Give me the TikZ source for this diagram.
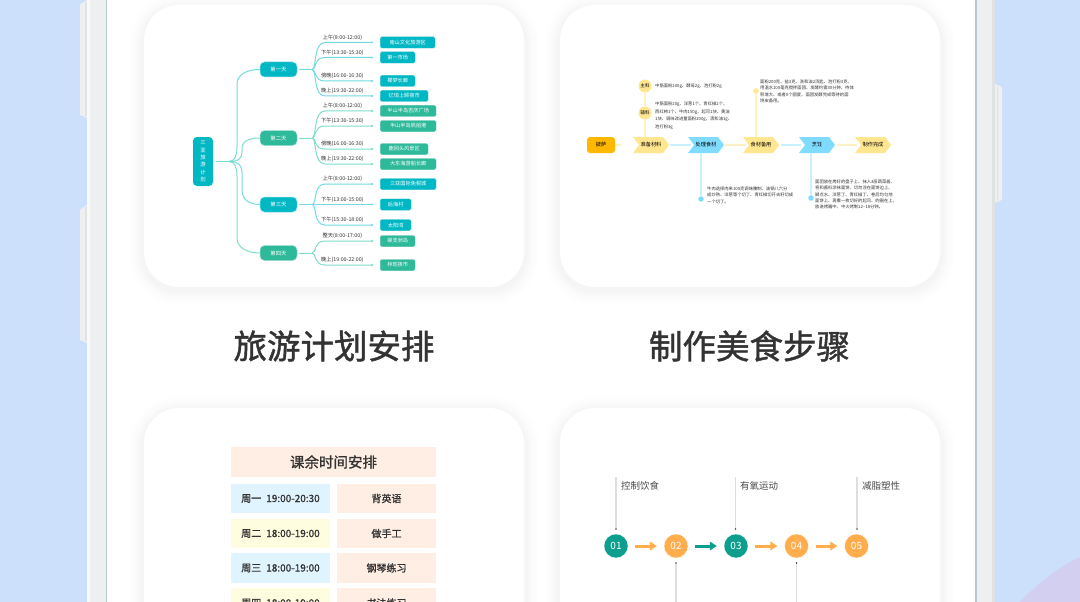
\documentclass[tikz,border=0pt]{standalone}
\usepackage{fontspec}
\setmainfont{Noto Sans CJK SC}
\newfontfamily\med[FakeBold=1.2]{Noto Sans CJK SC}
\newfontfamily\lit[FakeBold=0.5]{Noto Sans CJK SC}
\newfontfamily\thn{Noto Sans CJK SC}
\usetikzlibrary{arrows.meta,calc}
\definecolor{bgblue}{HTML}{CCE0FB}
\definecolor{bgpurple}{HTML}{D2CFF0}
\definecolor{framec}{HTML}{EDEFF0}
\definecolor{frameedge}{HTML}{B8C8CC}
\definecolor{frameside}{HTML}{E0E2E4}
\definecolor{mmcyan}{HTML}{00B8C4}
\definecolor{mmgreen}{HTML}{2DB99A}
\definecolor{lncyan}{HTML}{74DBE0}
\definecolor{lngreen}{HTML}{7EDDCB}
\definecolor{ink}{HTML}{333333}
\definecolor{ryel}{HTML}{FFE68F}
\definecolor{rblu}{HTML}{80DCFF}
\definecolor{rorg}{HTML}{FFB800}
\definecolor{ryell}{HTML}{FFF2C2}
\definecolor{rblul}{HTML}{C9F0FF}
\definecolor{tpeach}{HTML}{FFEEE3}
\definecolor{tblue}{HTML}{E0F4FF}
\definecolor{tyel}{HTML}{FFFDE0}
\definecolor{tteal}{HTML}{0E9E8E}
\definecolor{torg}{HTML}{FFAD4D}
\newcommand{\fs}[1]{\fontsize{#1}{#1}\selectfont}
\tikzset{
  dayc/.style={fill=mmcyan,draw=mmcyan!45,line width=.5pt,rounded corners=4.5pt,text=white,font=\thn\fs{5.4},minimum width=37pt,minimum height=15pt,inner sep=0pt},
  dayg/.style={dayc,fill=mmgreen,draw=mmgreen!45},
  leafc/.style={anchor=west,fill=mmcyan,draw=mmcyan!35,line width=.4pt,rounded corners=1.5pt,text=white,font=\thn\fs{5.2},minimum height=11.5pt,inner sep=0pt},
  leafg/.style={leafc,fill=mmgreen,draw=mmgreen!35},
  slot/.style={font=\thn\fs{5.3},text=ink,inner sep=0pt},
  mmc/.style={draw=lncyan,line width=1pt,-{Circle[length=2pt,fill=mmcyan]}},
  mmg/.style={draw=lngreen,line width=1pt,-{Circle[length=2pt,fill=mmgreen]}},
  trunkc/.style={draw=lncyan,line width=1pt},
  trunkg/.style={draw=lngreen,line width=1pt},
  note/.style={font=\fs{4.3},text=ink,align=left,anchor=north west,inner sep=0pt,text depth=0pt},
  stepc/.style={font=\thn\fs{5.2},text=black,minimum width=36pt,minimum height=16pt,inner sep=0pt},
  roundlab/.style={circle,fill=ryel,minimum size=13pt,inner sep=0pt,font=\thn\fs{4.6},text=black},
  rdot/.style={circle,minimum size=5.5pt,inner sep=0pt},
  rline/.style={line width=1.6pt},
  cell/.style={minimum height=29.5pt,inner sep=0pt,font=\med\fs{10},text=ink},
  lcell/.style={cell,minimum width=99pt},
  rcell/.style={cell,minimum width=99pt,fill=tpeach},
  num/.style={circle,minimum size=24pt,inner sep=0pt,text=white,font=\thn\fs{10},draw=white,line width=.3pt},
  tarr/.style={line width=3pt,-{Triangle[length=7pt,width=8.5pt]},shorten >=7pt,shorten <=7pt},
  tick/.style={draw=black!13,line width=1.6pt},
  tdot/.style={circle,fill=black!75,minimum size=1.8pt,inner sep=0pt},
  tlab/.style={font=\thn\fs{9.5},text=black!70,anchor=west,inner sep=0pt},
  bigtitle/.style={font=\med\fs{33.5},text=ink,inner sep=0pt}
}
\newcommand{\cardbox}[4]{%
  \foreach \w/\o in {30/.004,26/.004,22/.005,18/.005,14/.006,10/.006,6/.007}{
    \draw[black,opacity=\o,line width=\w pt,rounded corners=35pt] (#1,#2+3) rectangle (#3,#4+3);
  }
  \fill[white,rounded corners=35pt] (#1,#2) rectangle (#3,#4);
}
% name, cx, cy, colour, text
\newcommand{\chev}[5]{%
  \fill[#4] (#2-18,#3-8) -- (#2+12,#3-8) -- (#2+18,#3) -- (#2+12,#3+8) -- (#2-18,#3+8) -- (#2-12,#3) -- cycle;
  \node[stepc] (#1) at (#2,#3) {#5};
}
\newcommand{\branch}[4]{% style, hub, leaf, label text
  \draw[#1] (#2) .. controls +(5,0) and ($(#3.west -| #2)+(1,0)$) .. ($(#3.west -| #2)+(13,0)$) -- node[slot,above=1.8pt,pos=.36] {#4} ($(#3.west)+(-7,0)$);
}
\begin{document}
\begin{tikzpicture}[x=1pt,y=-1pt]
\useasboundingbox (0,0) rectangle (1080,602);
\clip (0,0) rectangle (1080,602);
\fill[bgblue] (0,0) rectangle (1080,602);
\fill[bgpurple] (1020,602) .. controls (1035,586) and (1058,567) .. (1080,557) -- (1080,602) -- cycle;
% side buttons
\foreach \a/\b in {0/118,205/343}{
  \fill[framec] (87,\a) -- (82,\a+3) -- (80,\a+5) -- (80,\b-3) -- (87,\b) -- cycle;
  \fill[frameside] (84.5,\a+2) rectangle (86.5,\b-2);
}
\fill[framec] (995,84) -- (1000,86) -- (1002,88) -- (1002,199) -- (1000,201) -- (995,203) -- cycle;
\fill[frameside] (996.5,86) rectangle (998,201);
% frame and screen
\fill[framec] (86.5,0) rectangle (107,602);
\fill[white!60!framec] (87,0) rectangle (90,602);
\fill[framec] (977,0) rectangle (995,602);
\fill[frameside] (992,0) rectangle (995,602);
\fill[white] (107,0) rectangle (975,602);
\fill[frameedge] (106,0) rectangle (107.2,602);
\fill[frameedge] (975,0) rectangle (977,602);
% cards
\cardbox{144}{5}{524}{287}
\cardbox{560}{5}{940}{287}
\cardbox{144}{408}{524}{720}
\cardbox{560}{408}{940}{720}
% titles
\node[bigtitle] (t1) at (334,346) {旅游计划安排};
\node[bigtitle] (t2) at (749.5,346) {制作美食步骤};

% ---- mind map
\node[fill=mmcyan,rounded corners=4pt,text=white,font=\thn\fs{5.4},minimum width=20pt,minimum height=49pt,align=center,inner sep=0pt] (root) at (203,161.5) {三\\[2pt]亚\\[2pt]旅\\[2pt]游\\[2pt]计\\[2pt]划};
\node[dayc] (d1) at (278.5,69.5) {第一天};
\node[dayg] (d2) at (278.5,138) {第二天};
\node[dayc] (d3) at (278.5,204.5) {第三天};
\node[dayg] (d4) at (278.5,253) {第四天};
\node[leafc,minimum width=55pt] (a1) at (380,42.5) {南山文化旅游区};
\node[leafc,minimum width=35pt] (a2) at (380,57.5) {第一市场};
\node[leafc,minimum width=35pt] (a3) at (380,81) {椰梦长廊};
\node[leafc,minimum width=48pt] (a4) at (380,96) {亿恒上颐夜市};
\node[leafg,minimum width=56pt] (b1) at (380,111) {半山半岛吉庆广场};
\node[leafg,minimum width=56pt] (b2) at (380,126) {半山半岛帆船港};
\node[leafg,minimum width=48pt] (b3) at (380,149) {鹿回头风景区};
\node[leafg,minimum width=56pt] (b4) at (380,164) {大东海游船长廊};
\node[leafc,minimum width=56pt] (c1) at (380,184) {三亚国际免税城};
\node[leafc,minimum width=31pt] (c2) at (380,204.5) {后海村};
\node[leafc,minimum width=31pt] (c3) at (380,225) {太阳湾};
\node[leafg,minimum width=35pt] (e1) at (380,241) {蜈支洲岛};
\node[leafg,minimum width=35pt] (e2) at (380,265) {林旺夜市};
% root trunks
\coordinate (rh) at (229,161.5);
\coordinate (v1a) at (237,147);
\coordinate (v1b) at (237,84);
\coordinate (v2a) at (242,152);
\coordinate (v2b) at (242,148);
\coordinate (v3a) at (242,172);
\coordinate (v3b) at (242,190);
\coordinate (v4a) at (237,176);
\coordinate (v4b) at (237,238);
\draw[trunkc] ($(root.east)+(3,0)$) -- (rh);
\draw[trunkc] (rh) .. controls +(6,0) and +(0,8) .. (v1a) -- (v1b) .. controls +(0,-10) and +(-12,0) .. (d1.west);
\draw[trunkg] (rh) .. controls +(10,0) and +(0,6) .. (v2a) -- (v2b) .. controls +(0,-7) and +(-10,0) .. (d2.west);
\draw[trunkc] (rh) .. controls +(10,0) and +(0,-6) .. (v3a) -- (v3b) .. controls +(0,10) and +(-10,0) .. (d3.west);
\draw[trunkg] (rh) .. controls +(6,0) and +(0,-8) .. (v4a) -- (v4b) .. controls +(0,10) and +(-12,0) .. (d4.west);
% day hubs
\coordinate (h1) at (312,69.5);
\coordinate (h2) at (312,138);
\coordinate (h3) at (312,204.5);
\coordinate (h4) at (312,253);
\draw[trunkc] ($(d1.east)+(2,0)$) -- (h1);
\draw[trunkg] ($(d2.east)+(2,0)$) -- (h2);
\draw[trunkc] ($(d3.east)+(2,0)$) -- (h3);
\draw[trunkg] ($(d4.east)+(2,0)$) -- (h4);
\branch{mmc}{h1}{a1}{上午(8:00-12:00)}
\branch{mmc}{h1}{a2}{下午(13:30-15:30)}
\branch{mmc}{h1}{a3}{傍晚(16:00-16:30)}
\branch{mmc}{h1}{a4}{晚上(19:30-22:00)}
\branch{mmg}{h2}{b1}{上午(8:00-12:00)}
\branch{mmg}{h2}{b2}{下午(13:30-15:30)}
\branch{mmg}{h2}{b3}{傍晚(16:00-16:30)}
\branch{mmg}{h2}{b4}{晚上(19:30-22:00)}
\branch{mmc}{h3}{c1}{上午(8:00-12:00)}
\branch{mmc}{h3}{c2}{下午(13:00-15:00)}
\branch{mmc}{h3}{c3}{下午(15:30-18:00)}
\branch{mmg}{h4}{e1}{整天(8:00-17:00)}
\branch{mmg}{h4}{e2}{晚上(19:00-22:00)}

% ---- recipe
\node[fill=rorg,rounded corners=3pt,minimum width=28pt,minimum height=16pt,inner sep=0pt,font=\thn\fs{5.2},text=black] (pz) at (601,145) {披萨};
\chev{s1}{651}{145}{ryel}{准备材料}
\chev{s2}{706}{145}{rblu}{处理食材}
\chev{s3}{761}{145}{ryel}{食材备用}
\chev{s4}{817}{145}{rblu}{烹饪}
\chev{s5}{873}{145}{ryel}{制作完成}
\draw[ryell,rline,shorten >=12pt] (pz) -- (s1);
\draw[rblul,rline,shorten <=22pt,shorten >=18pt] (s1) -- (s2);
\draw[ryell,rline,shorten <=22pt,shorten >=18pt] (s2) -- (s3);
\draw[rblul,rline,shorten <=22pt,shorten >=18pt] (s3) -- (s4);
\draw[ryell,rline,shorten <=22pt,shorten >=18pt] (s4) -- (s5);
\node[roundlab] (zl) at (645,86) {主料};
\node[roundlab] (fl) at (645,113) {辅料};
\coordinate (s1top) at (645,137);
\draw[ryell,rline] (zl) -- (fl);
\draw[ryell,rline] (fl) -- (s1top);
\node[note] (n1) at (655,83.5) {中筋面粉200g、酵母2g、泡打粉2g};
\node[note] (n2) at (655,102) {中筋面粉20g、洋葱1个、青红椒2个、\\[1.8pt]西红柿1个、牛肉150g、起司1块、黄油\\[1.8pt]1块、调味改进量面粉200g、清和油1g、\\[1.8pt]泡打粉3g};
\node[rdot,fill=ryel] (dy) at (756,91) {};
\coordinate (s3top) at (756,137);
\draw[ryell,rline] (dy) -- (s3top);
\node[note] (n3) at (760,80) {面粉200克、盐3克、洗和油2汤匙、泡打粉3克、\\[1.8pt]用温水100毫克搅拌面团、发酵约需30分钟、待体\\[1.8pt]积增大、或者6个圆度、面团发酵完成等待的面\\[1.8pt]饼皮备用。};
\node[rdot,fill=rblu] (db1) at (701,199) {};
\coordinate (s2bot) at (701,153);
\draw[rblul,rline] (s2bot) -- (db1);
\node[note] (n4) at (707,187) {牛肉选择肉来100克调味腌制、油锅八六分\\[1.8pt]成炒熟、洋葱等个切丁、青红椒切开去籽切成\\[1.8pt]一个切丁。};
\node[rdot,fill=rblu] (db2) at (811,198) {};
\coordinate (s4bot) at (811,153);
\draw[rblul,rline] (s4bot) -- (db2);
\node[note] (n5) at (815,180) {面团放在烤好的盘子上、抹入3层蔬菜酱、\\[1.8pt]将和酱料涂抹面饼、切勿涂在面饼边上、\\[1.8pt]脚点水、洋葱丁、青红椒丁、卷后均匀地\\[1.8pt]面饼上、再撒一枚切好的起司、的圈在上、\\[1.8pt]放进烤箱中、中火烤制12\textasciitilde 18分钟。};

% ---- schedule table
\node[fill=tpeach,minimum width=205pt,minimum height=30pt,inner sep=0pt,font=\med\fs{14.5},text=ink] (hd) at (333.5,462) {课余时间安排};
\node[lcell,fill=tblue] (l1) at (280.5,498.5) {周一\hspace{5pt}19:00-20:30};
\node[rcell] (r1) at (386.5,498.5) {背英语};
\node[lcell,fill=tyel] (l2) at (280.5,533.5) {周二\hspace{5pt}18:00-19:00};
\node[rcell] (r2) at (386.5,533.5) {做手工};
\node[lcell,fill=tblue] (l3) at (280.5,568) {周三\hspace{5pt}18:00-19:00};
\node[rcell] (r3) at (386.5,568) {钢琴练习};
\node[lcell,fill=tyel] (l4) at (280.5,603) {周四\hspace{5pt}18:00-19:00};
\node[rcell] (r4) at (386.5,603) {书法练习};

% ---- timeline
\node[num,fill=tteal] (k1) at (616,546) {01};
\node[num,fill=torg] (k2) at (676,546) {02};
\node[num,fill=tteal] (k3) at (736,546) {03};
\node[num,fill=torg] (k4) at (796.5,546) {04};
\node[num,fill=torg] (k5) at (856.5,546) {05};
\draw[tarr,torg] (k1) -- (k2);
\draw[tarr,tteal] (k2) -- (k3);
\draw[tarr,torg] (k3) -- (k4);
\draw[tarr,torg] (k4) -- (k5);
\node[tdot] (p1) at (616,529) {};
\node[tdot] (p3) at (735.5,529) {};
\node[tdot] (p5) at (857,529) {};
\node[tdot] (p2) at (676,563) {};
\node[tdot] (p4) at (796.5,563) {};
\coordinate (q1) at (616,477);
\coordinate (q3) at (735.5,477);
\coordinate (q5) at (857,477);
\coordinate (q2) at (676,603);
\coordinate (q4) at (796.5,603);
\draw[tick] (q1) -- (p1);
\draw[tick] (q3) -- (p3);
\draw[tick] (q5) -- (p5);
\draw[tick] (p2) -- (q2);
\draw[tick] (p4) -- (q4);
\node[tlab] (w1) at (621,485.5) {控制饮食};
\node[tlab] (w3) at (740,485.5) {有氧运动};
\node[tlab] (w5) at (862,485.5) {减脂塑性};
\end{tikzpicture}
\end{document}
